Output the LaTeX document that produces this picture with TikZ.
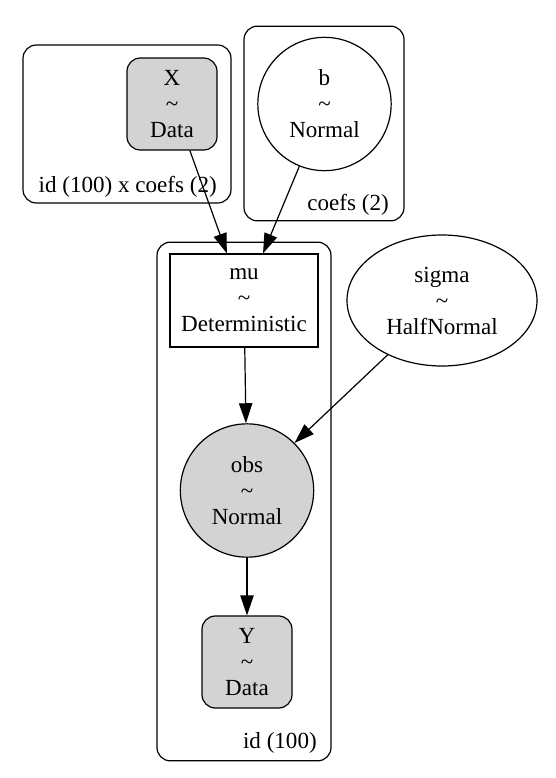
\documentclass[tikz,border=0pt]{standalone}
\usepackage{fontspec}
\setmainfont{Liberation Serif}
\usetikzlibrary{arrows.meta,shapes.geometric}
\definecolor{obsgray}{HTML}{D3D3D3}

\begin{document}
\begin{tikzpicture}[
    x=0.75pt, y=-0.75pt,
    font=\fontsize{17.3}{19.5}\selectfont,
    plate/.style={draw, rectangle, rounded corners=10pt, line width=0.9pt},
    platelabel/.style={inner sep=0pt, anchor=base east},
    data/.style={draw, rectangle, rounded corners=10pt, fill=obsgray, align=center,
                 inner sep=0pt, minimum width=67.5pt, minimum height=69pt, line width=0.9pt},
    latent/.style={draw, circle, align=center, inner sep=0pt, minimum size=100pt, line width=0.9pt},
    determ/.style={draw, rectangle, align=center, inner sep=0pt,
                   minimum width=111pt, minimum height=69.75pt, line width=0.9pt},
    edge/.style={-{Triangle[length=15pt, width=10pt]}, line width=0.9pt}]
    \useasboundingbox (0,0) rectangle (556,778);
    % plates
    \node[plate, minimum width=156pt, minimum height=118.5pt]  (pidcoefs) at (127,124)   {};
    \node[plate, minimum width=120pt, minimum height=146pt]    (pcoefs)   at (324,123.5) {};
    \node[plate, minimum width=130.5pt, minimum height=389pt]  (pid)      at (244,501.5) {};
    \node[platelabel] (lidcoefs) at (217,192) {id (100) x coefs (2)};
    \node[platelabel] (lcoefs)   at (389,210) {coefs (2)};
    \node[platelabel] (lid)      at (317,748) {id (100)};
    % variables
    \node[data]                   (X)     at (172,104)   {X\\\textasciitilde\\Data};
    \node[latent]                 (b)     at (324.5,104) {b\\\textasciitilde\\Normal};
    \node[determ]                 (mu)    at (244,300.5) {mu\\\textasciitilde\\Deterministic};
    \node[latent, ellipse, minimum width=142.5pt, minimum height=98.25pt]
                                  (sigma) at (442,300.5) {sigma\\\textasciitilde\\HalfNormal};
    \node[latent, fill=obsgray]   (obs)   at (247,490.5) {obs\\\textasciitilde\\Normal};
    \node[data]                   (Y)     at (247,662)   {Y\\\textasciitilde\\Data};
    \foreach \a/\b in {X.291/mu.110, b.248/mu.68, mu/obs, sigma.225/obs.45, obs/Y}
        \draw[edge] (\a) -- (\b);
\end{tikzpicture}
\end{document}
